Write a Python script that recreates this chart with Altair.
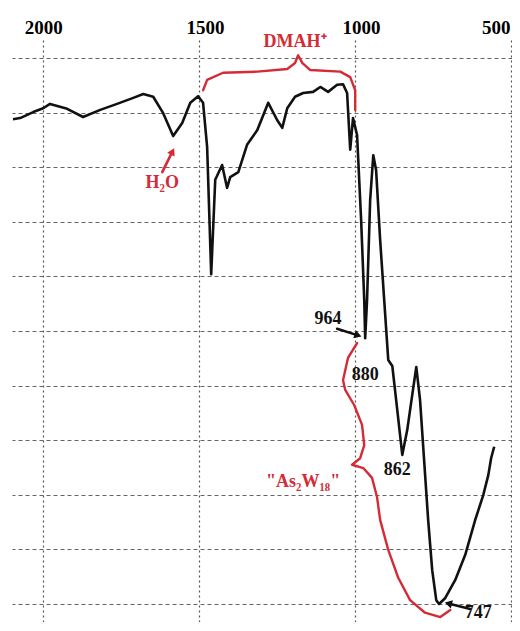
import altair as alt
import pandas as pd

# IR spectrum (wavenumber cm-1, transmittance %)
wavenumber = [2097, 2074, 2032, 2000, 1978, 1923, 1872, 1817, 1763, 1711, 1679, 1647, 1615, 1583, 1554,
              1528, 1503, 1487, 1474, 1461, 1448, 1426, 1410, 1400, 1374, 1346, 1313, 1278, 1249, 1233,
              1217, 1192, 1166, 1134, 1111, 1086, 1057, 1038, 1025, 1015, 1006, 993, 980, 970, 967,
              961, 951, 941, 932, 919, 906, 893, 880, 864, 848, 832, 816, 803, 791, 778,
              765, 752, 739, 730, 710, 678, 646, 614, 588, 572, 563, 556, 553]
transmittance = [88.8, 89.0, 90.1, 90.8, 91.6, 90.7, 89.2, 90.5, 91.6, 92.7, 93.4, 92.9, 89.9, 85.7, 88.1,
                 91.8, 93.0, 91.8, 83.7, 60.4, 77.7, 80.4, 76.2, 78.2, 79.1, 84.1, 86.8, 91.8, 88.6, 87.2,
                 90.8, 92.9, 93.6, 93.8, 94.7, 93.8, 95.1, 95.2, 93.6, 83.2, 89.0, 85.9, 70.3, 55.7, 48.7,
                 55.7, 74.0, 82.2, 79.5, 66.7, 55.7, 44.7, 43.6, 35.5, 27.3, 31.9, 38.3, 43.4, 37.4, 26.4,
                 15.4, 6.2, 0.7, 0.0, 1.1, 4.4, 9.0, 15.4, 20.0, 23.6, 26.7, 28.2, 28.8]

x_ticks = [2000, 1500, 1000, 500]
y_grid = [0, 10, 20, 30, 40, 50, 60, 70, 80, 90, 100]

# annotation texts
label_text = ["DMAH\u207a", "H\u2082O", "964", "880", "862", "747", "\"As\u2082W\u2081\u2088\""]
label_wn = [1192, 1618, 1086, 967, 864, 604, 1166]
label_t = [102.9, 77.1, 52.2, 41.9, 24.5, -1.6, 22.3]
label_color = ["red", "red", "black", "black", "black", "black", "red"]

# braces (red curves)
brace_dmah_wn = [1487, 1474, 1423, 1313, 1217, 1192, 1182, 1169, 1143, 1047, 1015, 999, 999]
brace_dmah_t = [94.1, 96.0, 97.3, 97.5, 98.0, 99.1, 100.5, 99.1, 97.8, 97.5, 96.5, 94.1, 90.5]
brace_as_wn = [993, 1022, 1038, 1031, 1002, 977, 970, 983, 1009, 973, 945, 929, 919, 893, 861, 823, 775, 726, 694]
brace_as_t = [47.8, 45.1, 41.0, 39.2, 36.4, 32.8, 29.1, 26.7, 25.5, 24.9, 23.1, 19.6, 15.4, 9.9, 4.8, 0.7, -1.6, -2.4, -1.1]

# arrows: start and tip
arrow_name = ["h2o", "964", "747"]
arrow_wn0 = [1618, 1057, 630]
arrow_t0 = [79.1, 50.4, -0.9]
arrow_wn1 = [1585, 990, 700]
arrow_t1 = [82.9, 49.2, 0.1]
arrow_angle = [27, 108, 285]
arrow_color = ["red", "black", "black"]

RED = "#d42b36"
FONT = "Liberation Serif"
colmap = {"red": RED, "black": "#111111"}

x_scale = alt.Scale(domain=[496, 2100], reverse=True, nice=False, zero=False)
y_scale = alt.Scale(domain=[-3.3, 103.3], nice=False, zero=False)

spec = pd.DataFrame({"wn": wavenumber, "t": transmittance, "i": list(range(len(wavenumber)))})

x_axis = alt.Axis(
    orient="top", values=x_ticks, title=None, ticks=False, domain=False, format="d",
    labelFont=FONT, labelFontWeight="bold", labelFontSize=19, labelColor="black",
    labelPadding=3, labelOverlap=False, labelFlush=False,
    labelOffset={"condition": [{"test": "datum.value == 2000", "value": 0},
                               {"test": "datum.value == 500", "value": -15}], "value": 6},
    grid=True, gridDash=[2, 3], gridColor="#555555", gridWidth=1.2,
)
y_axis = alt.Axis(
    values=y_grid, title=None, labels=False, ticks=False, domain=False,
    grid=True, gridDash=[4, 3], gridColor="#666666", gridWidth=1.1,
)

line = alt.Chart(spec).mark_line(color="#111111", strokeWidth=2.6, strokeJoin="round").encode(
    x=alt.X("wn:Q", scale=x_scale, axis=x_axis),
    y=alt.Y("t:Q", scale=y_scale, axis=y_axis),
    order="i:Q",
)

# annotation lines
rows = []
for k, (w, t) in enumerate(zip(brace_dmah_wn, brace_dmah_t)):
    rows.append({"wn": w, "t": t, "g": "b1", "i": k, "c": RED, "sw": 2.4})
for k, (w, t) in enumerate(zip(brace_as_wn, brace_as_t)):
    rows.append({"wn": w, "t": t, "g": "b2", "i": k, "c": RED, "sw": 2.4})
for n, w0, t0, w1, t1, c in zip(arrow_name, arrow_wn0, arrow_t0, arrow_wn1, arrow_t1, arrow_color):
    rows.append({"wn": w0, "t": t0, "g": n, "i": 0, "c": colmap[c], "sw": 2.6})
    rows.append({"wn": w1, "t": t1, "g": n, "i": 1, "c": colmap[c], "sw": 2.6})
ann = pd.DataFrame(rows)

ann_lines = alt.Chart(ann).mark_line(strokeCap="round", strokeJoin="round").encode(
    x=alt.X("wn:Q", scale=x_scale),
    y=alt.Y("t:Q", scale=y_scale),
    detail="g:N",
    order="i:Q",
    color=alt.Color("c:N", scale=None),
    strokeWidth=alt.StrokeWidth("sw:Q", scale=None),
)

heads = pd.DataFrame({"wn": arrow_wn1, "t": arrow_t1, "a": arrow_angle,
                      "c": [colmap[c] for c in arrow_color]})
head_marks = alt.Chart(heads).mark_point(shape="triangle-up", filled=True, size=70, opacity=1).encode(
    x=alt.X("wn:Q", scale=x_scale),
    y=alt.Y("t:Q", scale=y_scale),
    angle=alt.Angle("a:Q", scale=None),
    color=alt.Color("c:N", scale=None),
)

labels = pd.DataFrame({"wn": label_wn, "t": label_t, "txt": label_text,
                       "c": [colmap[c] for c in label_color]})
label_marks = alt.Chart(labels).mark_text(font=FONT, fontWeight="bold", fontSize=18, baseline="middle").encode(
    x=alt.X("wn:Q", scale=x_scale),
    y=alt.Y("t:Q", scale=y_scale),
    text="txt:N",
    color=alt.Color("c:N", scale=None),
)

chart = alt.layer(line, ann_lines, head_marks, label_marks).properties(
    width=500, height=582,
    autosize=alt.AutoSizeParams(type="none"),
    padding={"left": 4, "top": 32, "right": 0, "bottom": 0},
    background="white",
).configure_view(stroke=None)

chart.save("out.html", embed_options={"renderer": "svg", "actions": False})
